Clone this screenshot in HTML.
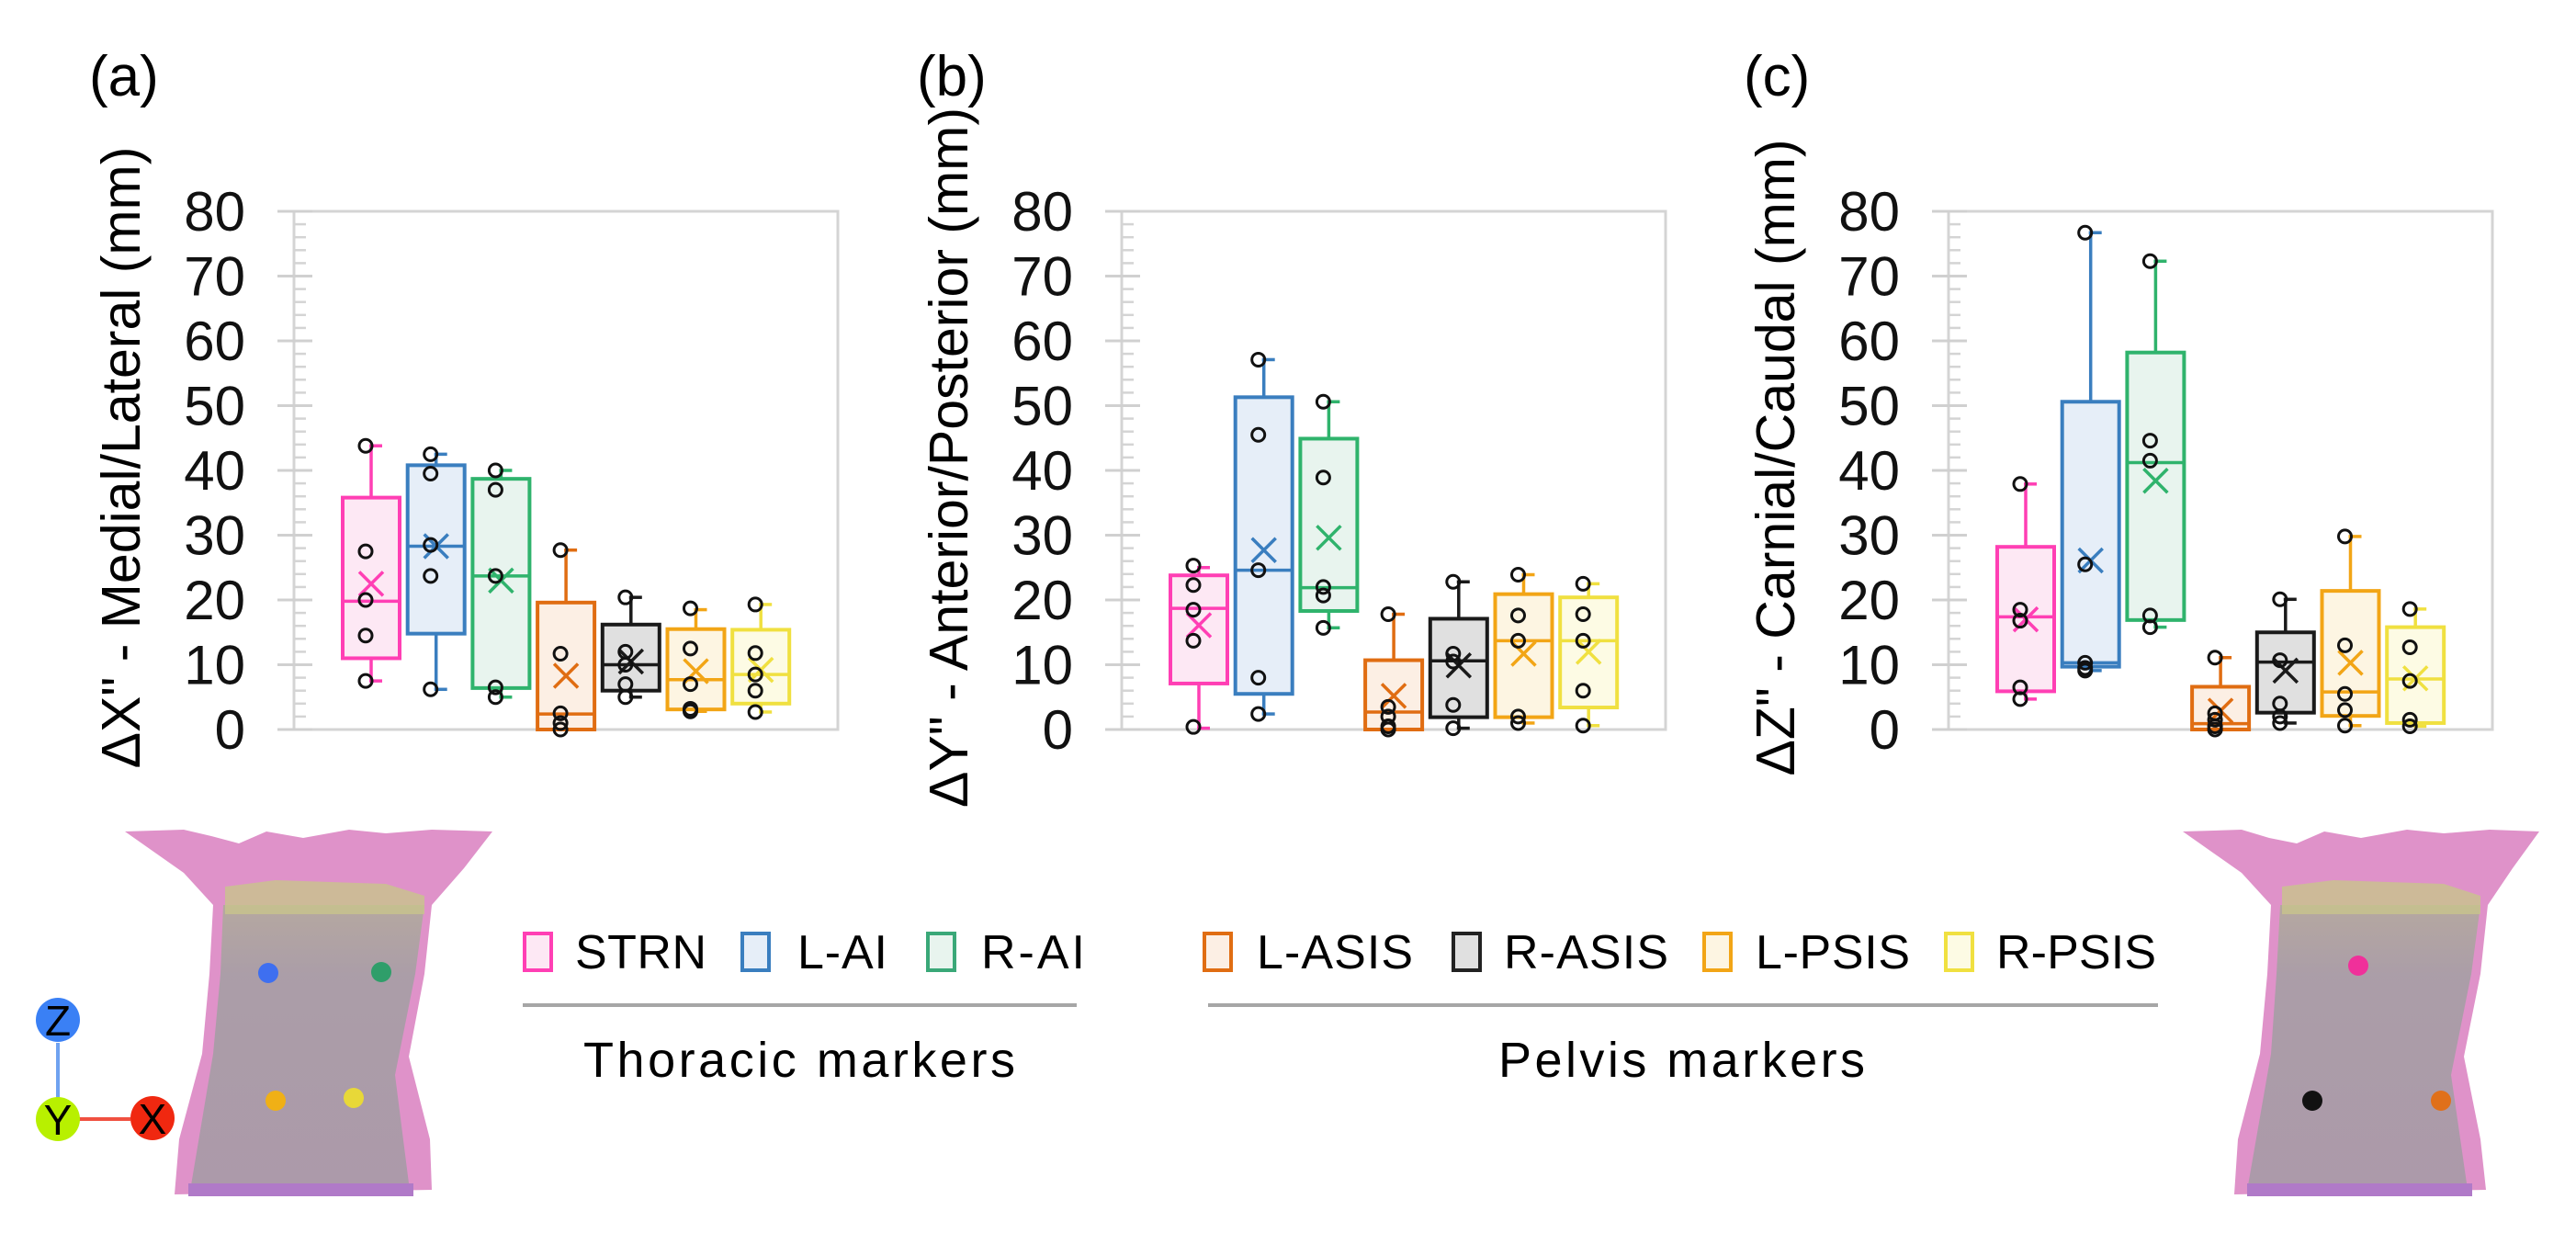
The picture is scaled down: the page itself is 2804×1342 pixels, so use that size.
<!DOCTYPE html>
<html><head><meta charset="utf-8"><title>Marker displacement box plots</title>
<style>
html,body{margin:0;padding:0;background:#fff;}
svg{display:block;font-family:"Liberation Sans",Arial,sans-serif;}
</style></head>
<body>
<svg id="fig" width="2804" height="1342" viewBox="0 0 2804 1342" xmlns="http://www.w3.org/2000/svg">
  <defs>
    <linearGradient id="bodyGrad" x1="0" y1="0" x2="0" y2="1">
      <stop offset="0" stop-color="#b3a99e"/>
      <stop offset="0.25" stop-color="#a89ea6"/>
      <stop offset="1" stop-color="#a99aa8"/>
    </linearGradient>
  </defs>

  <!-- Left torso -->
  <g>
    <path d="M136,905 L200,903 L230,910 L260,918 L290,905 L330,912 L380,903 L420,907 L470,903 L536,905 L505,945 L470,985 L462,1060 L445,1150 L468,1240 L470,1295 L190,1300 L195,1240 L220,1147 L228,1060 L232,985 L200,950 Z" fill="#df92c9"/>
    <path d="M243,985 L462,985 L452,1060 L430,1170 L445,1288 L207,1296 L232,1147 L240,1060 Z" fill="url(#bodyGrad)" opacity="0.95"/>
    <path d="M245,965 L300,958 L360,960 L420,962 L462,975 L462,995 L245,995 Z" fill="#c8c48c" opacity="0.8"/>
    <rect x="205" y="1288" width="245" height="14" fill="#b07ac8"/>
    <circle cx="292" cy="1059" r="11" fill="#3e6ff0"/>
    <circle cx="415" cy="1058" r="11" fill="#2f9e6a"/>
    <circle cx="300" cy="1198" r="11" fill="#f0b016"/>
    <circle cx="385" cy="1195" r="11" fill="#e8d838"/>
  </g>

  <!-- Coordinate triad -->
  <g>
    <line x1="63" y1="1195" x2="63" y2="1135" stroke="#6fa2f0" stroke-width="4"/>
    <line x1="86" y1="1218" x2="142" y2="1218" stroke="#f05040" stroke-width="4"/>
    <circle cx="63" cy="1110" r="24" fill="#3a80f5"/>
    <circle cx="63" cy="1218" r="24" fill="#b8f000"/>
    <circle cx="166" cy="1217" r="24" fill="#f02810"/>
    <text x="63" y="1127" font-size="46" text-anchor="middle" fill="#000">Z</text>
    <text x="63" y="1235" font-size="46" text-anchor="middle" fill="#000">Y</text>
    <text x="166" y="1234" font-size="46" text-anchor="middle" fill="#000">X</text>
  </g>

  <!-- Right torso -->
  <g>
    <path d="M2376,905 L2440,903 L2470,912 L2500,918 L2530,905 L2570,912 L2620,903 L2660,907 L2710,903 L2764,905 L2735,945 L2708,985 L2700,1060 L2682,1150 L2700,1240 L2706,1295 L2432,1300 L2436,1240 L2460,1147 L2468,1060 L2472,985 L2440,950 Z" fill="#df92c9"/>
    <path d="M2482,985 L2700,985 L2690,1060 L2668,1170 L2685,1288 L2446,1296 L2472,1147 L2478,1060 Z" fill="url(#bodyGrad)" opacity="0.95"/>
    <path d="M2484,965 L2540,958 L2600,960 L2660,962 L2700,975 L2700,995 L2484,995 Z" fill="#c8c48c" opacity="0.8"/>
    <rect x="2446" y="1288" width="245" height="14" fill="#b07ac8"/>
    <circle cx="2567" cy="1051" r="11" fill="#f0309a"/>
    <circle cx="2517" cy="1198" r="11" fill="#111"/>
    <circle cx="2657" cy="1198" r="11" fill="#e0701a"/>
  </g>

  <!-- Legend -->
  <g>
    <g><rect x="571" y="1016" width="29" height="40" fill="#fde8f4" stroke="#ff3fb4" stroke-width="4"/><text x="626" y="1054" font-size="52" textLength="143">STRN</text></g>
    <g><rect x="808" y="1016" width="29" height="40" fill="#e6eef8" stroke="#3a7ebf" stroke-width="4"/><text x="868" y="1054" font-size="52" textLength="98">L-AI</text></g>
    <g><rect x="1010" y="1016" width="29" height="40" fill="#e8f4ee" stroke="#3aa878" stroke-width="4"/><text x="1068" y="1054" font-size="52" textLength="113">R-AI</text></g>
    <g><rect x="1311" y="1016" width="29" height="40" fill="#fcefe4" stroke="#e06d12" stroke-width="4"/><text x="1368" y="1054" font-size="52" textLength="170">L-ASIS</text></g>
    <g><rect x="1582" y="1016" width="29" height="40" fill="#e0e0e0" stroke="#222" stroke-width="4"/><text x="1637" y="1054" font-size="52" textLength="179">R-ASIS</text></g>
    <g><rect x="1855" y="1016" width="29" height="40" fill="#fdf5e2" stroke="#f2a516" stroke-width="4"/><text x="1911" y="1054" font-size="52" textLength="168">L-PSIS</text></g>
    <g><rect x="2118" y="1016" width="29" height="40" fill="#fdfbe4" stroke="#f0e040" stroke-width="4"/><text x="2173" y="1054" font-size="52" textLength="174">R-PSIS</text></g>
    <line x1="569" y1="1094" x2="1172" y2="1094" stroke="#a6a6a6" stroke-width="4"/>
    <line x1="1315" y1="1094" x2="2349" y2="1094" stroke="#a6a6a6" stroke-width="4"/>
    <text x="635" y="1172" font-size="54" textLength="470">Thoracic markers</text>
    <text x="1631" y="1172" font-size="54" textLength="399">Pelvis markers</text>
  </g>

  <g id="charts"></g>
</svg>

<script>
// ---- data ----
const categories = ["STRN","L-AI","R-AI","L-ASIS","R-ASIS","L-PSIS","R-PSIS"];
const colors = ["#ff3fb4","#3a7ebf","#2fb36c","#e06d12","#1a1a1a","#f2a516","#f0e040"];
const fills = ["#fde8f4","#e6eef8","#e8f4ee","#fcefe4","#e0e0e0","#fdf5e2","#fdfbe4"];
const yTicks = [0,10,20,30,40,50,60,70,80];
const panelLabels = ["(a)","(b)","(c)"];
const axisTitles = ['\u0394X" - Medial/Lateral (mm)','\u0394Y" - Anterior/Posterior (mm)','\u0394Z" - Carnial/Caudal (mm)'];

// Panel (a) Medial/Lateral
const aQ1 = [11, 14.8, 6.4, 0, 6, 3.1, 4];
const aQ3 = [35.8, 40.8, 38.7, 19.6, 16.2, 15.5, 15.4];
const aMedian = [19.8, 28.3, 23.7, 2.4, 10, 7.7, 8.5];
const aMean = [22.5, 28.3, 23, 8.3, 10.5, 9, 9.2];
const aMin = [7.5, 6.2, 5, 0, 5, 2.8, 2.7];
const aMax = [43.8, 42.5, 40, 27.7, 20.4, 18.5, 19.3];
const aPoints = [[43.8,27.5,20,14.5,7.5],[42.5,39.5,28.5,23.7,6.2],[40,37,23.7,6.5,5],[27.7,11.7,2.5,1,0],[20.4,12,10,7,5],[18.7,12.5,7,3.2,2.8],[19.3,11.8,8.5,6,2.7]];

// Panel (b) Anterior/Posterior
const bQ1 = [7.1, 5.5, 18.3, 0, 1.9, 1.9, 3.4];
const bQ3 = [23.8, 51.3, 44.9, 10.7, 17.1, 20.9, 20.4];
const bMedian = [18.7, 24.6, 21.9, 2.7, 10.6, 13.7, 13.7];
const bMean = [16.1, 27.7, 29.6, 5.2, 9.9, 11.7, 12];
const bMin = [0.2, 2.4, 15.7, 0, 0.2, 1, 0.6];
const bMax = [25, 57.1, 50.6, 17.8, 22.8, 23.9, 22.5];
const bPoints = [[25.3,22.3,18.5,13.7,0.4],[57.1,45.5,24.6,8,2.4],[50.6,38.9,22,20.7,15.7],[17.8,3.5,2,0.5,0],[22.8,11.7,10.5,3.8,0.2],[23.9,17.6,13.7,2,1],[22.5,17.8,13.7,6,0.6]];

// Panel (c) Carnial/Caudal
const cQ1 = [5.9, 9.7, 16.9, 0, 2.6, 2.1, 1];
const cQ3 = [28.2, 50.6, 58.2, 6.6, 15, 21.4, 15.8];
const cMedian = [17.4, 10.3, 41.2, 0.9, 10.4, 5.8, 7.8];
const cMean = [17, 26.1, 38.4, 2.9, 9.1, 10.3, 7.9];
const cMin = [4.7, 9.1, 15.8, 0, 1, 0.6, 0.5];
const cMax = [37.9, 76.7, 72.3, 11.1, 20.1, 29.8, 18.6];
const cPoints = [[37.9,18.5,16.8,6.5,4.7],[76.7,25.5,10.3,9.5,9.1],[72.3,44.6,41.5,17.6,15.8],[11.1,2.5,1.5,0.5,0],[20.1,10.7,4,2,1],[29.8,13,5.5,3,0.6],[18.6,12.7,7.5,1.5,0.5]];

const panels = [
  {q1:aQ1,q3:aQ3,med:aMedian,mean:aMean,min:aMin,max:aMax,pts:aPoints},
  {q1:bQ1,q3:bQ3,med:bMedian,mean:bMean,min:bMin,max:bMax,pts:bPoints},
  {q1:cQ1,q3:cQ3,med:cMedian,mean:cMean,min:cMin,max:cMax,pts:cPoints}
];

// ---- layout ----
const NS = "http://www.w3.org/2000/svg";
const panelX = [320, 1221, 2121];
const plotW = 592, plotTop = 230, plotBottom = 794;
const yMax = 80;
function yScale(v){ return plotBottom - v / yMax * (plotBottom - plotTop); }
function xCenter(px, i){ return px + 84 + i * 70.7; }
function mk(tag, attrs, parent){
  const e = document.createElementNS(NS, tag);
  for (const k in attrs) e.setAttribute(k, attrs[k]);
  parent.appendChild(e);
  return e;
}
const root = document.getElementById("charts");

panels.forEach((p, pi) => {
  const px = panelX[pi];
  const g = mk("g", {}, root);
  
  

  const lab = mk("text", {x: px - 223, y: 104, "font-size": 62}, g);
  lab.textContent = panelLabels[pi];
  
  

  const tt = mk("text", {x: 0, y: 0, "font-size": 59, "text-anchor": "middle", transform: "translate(" + (px - 168) + ",498) rotate(-90)"}, g);
  tt.textContent = axisTitles[pi];
  
  

  // frame
  const fr = mk("path", {d: "M" + (px - 18) + "," + plotTop + " H" + (px + plotW) + " V" + plotBottom + " H" + (px - 18) + " M" + px + "," + plotTop + " V" + plotBottom, fill: "none", stroke: "#d4d4d4", "stroke-width": 3}, g);
  
  

  // minor ticks
  for (let v = 2; v < yMax; v += 2) {
    if (v % 10 === 0) continue;
    const y = yScale(v);
    const m = mk("line", {x1: px, x2: px + 13, y1: y, y2: y, stroke: "#d4d4d4", "stroke-width": 2.5}, g);
    
    
  }
  yTicks.forEach(v => {
    const y = yScale(v);
    const t = mk("line", {x1: px - 18, x2: px + 20, y1: y, y2: y, stroke: "#d0d0d0", "stroke-width": 3}, g);
    
    
    const tl = mk("text", {x: px - 53, y: y + 21, "font-size": 60, "text-anchor": "end", fill: "#111"}, g);
    tl.textContent = String(v);
    
    
  });

  categories.forEach((c, i) => {
    const cx = xCenter(px, i), hw = 31;
    const col = colors[i];
    const bg = mk("g", {}, g);
    
    
    mk("line", {x1: cx, x2: cx, y1: yScale(p.q3[i]), y2: yScale(p.max[i]), stroke: col, "stroke-width": 3.5}, bg);
    mk("line", {x1: cx, x2: cx, y1: yScale(p.q1[i]), y2: yScale(p.min[i]), stroke: col, "stroke-width": 3.5}, bg);
    mk("line", {x1: cx - 2, x2: cx + 12, y1: yScale(p.max[i]), y2: yScale(p.max[i]), stroke: col, "stroke-width": 3.5}, bg);
    mk("line", {x1: cx - 2, x2: cx + 12, y1: yScale(p.min[i]), y2: yScale(p.min[i]), stroke: col, "stroke-width": 3.5}, bg);
    mk("rect", {x: cx - hw, y: yScale(p.q3[i]), width: hw * 2, height: Math.max(1, yScale(p.q1[i]) - yScale(p.q3[i])), fill: fills[i], stroke: col, "stroke-width": 4}, bg);
    mk("line", {x1: cx - hw, x2: cx + hw, y1: yScale(p.med[i]), y2: yScale(p.med[i]), stroke: col, "stroke-width": 3.5}, bg);
    const my = yScale(p.mean[i]), s = 13;
    mk("path", {d: "M" + (cx - s) + "," + (my - s) + " L" + (cx + s) + "," + (my + s) + " M" + (cx - s) + "," + (my + s) + " L" + (cx + s) + "," + (my - s), stroke: col, "stroke-width": 3.5, fill: "none"}, bg);
    p.pts[i].forEach(v => {
      const pt = mk("circle", {cx: cx - 6, cy: yScale(v), r: 7, fill: "none", stroke: "#111", "stroke-width": 3}, bg);
      
      
    });
  });
});
</script>
</body></html>
